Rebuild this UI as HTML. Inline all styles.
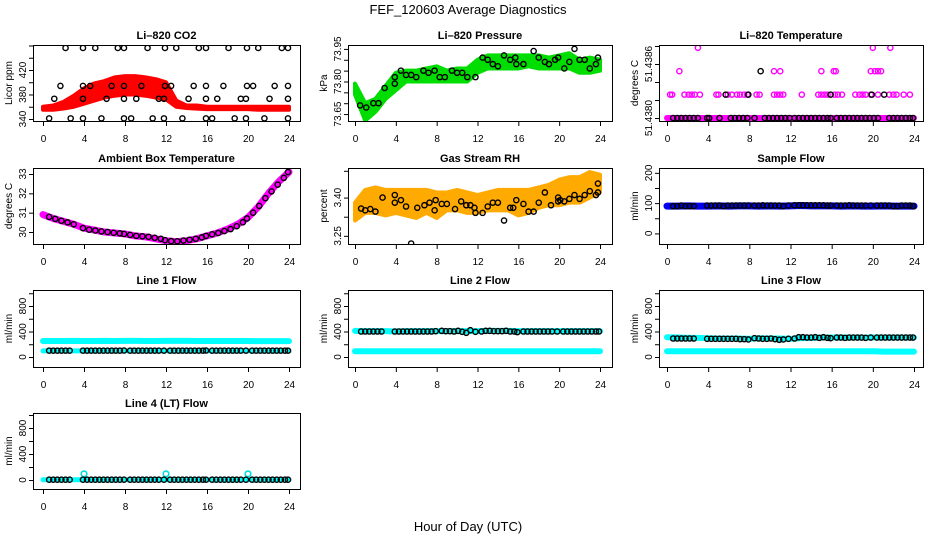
<!DOCTYPE html>
<html><head><meta charset="utf-8">
<style>
html,body{margin:0;padding:0;background:#fff;}
svg{display:block;font-family:"Liberation Sans",Arial,sans-serif;}
</style></head>
<body>
<svg id="chart" width="936" height="540" viewBox="0 0 936 540" xmlns="http://www.w3.org/2000/svg">
<text x="468" y="14" font-size="13" text-anchor="middle">FEF_120603  Average Diagnostics</text>
<text x="468" y="531" font-size="13" text-anchor="middle">Hour of Day (UTC)</text>
</svg>
<script>
// ---------- data ----------
const hours = [0,1,2,3,4,5,6,7,8,9,10,11,12,13,14,15,16,17,18,19,20,21,22,23,24];
const xTicks = [0,4,8,12,16,20,24];

// CO2
const co2Low  = [355,355,357,360,365,370,375,378,380,380,378,375,372,360,358,357,356,356,356,356,356,355,355,355,355];
const co2High = [360,362,368,378,390,398,402,408,410,410,408,405,400,370,362,362,360,360,360,360,360,360,360,360,360];
const co2BlkT = [2.2,3.9,5.1,7.3,7.9,10.2,11.9,13.0,15.2,15.9,18.1,19.9,21.0,23.3,23.9, 0.6,2.7,3.9,5.7,7.9,8.6,10.7,11.8,13.6,15.9,16.5,18.7,19.8,21.6,23.9, 1.7,3.9,4.6,6.7,7.9,9.6,11.9,12.5,14.7,15.9,17.6,19.9,20.5,22.6,23.9, 1.1,3.9,6.2,7.9,9.1,11.3,11.8,14.2,15.9,17.0,19.3,19.8,22.1,23.9];
const co2BlkV = [456,456,456,456,456,456,456,456,456,456,456,456,456,456,456, 341,341,341,341,341,341,341,341,341,341,341,341,341,341,341, 394,394,394,394,394,394,394,394,394,394,394,394,394,394,394, 373,373,373,373,373,373,373,373,373,373,373,373,373,373];

// Pressure
const presLow  = [73.74,73.62,73.66,73.72,73.76,73.80,73.80,73.80,73.80,73.80,73.80,73.80,73.84,73.86,73.86,73.86,73.86,73.87,73.86,73.86,73.86,73.86,73.84,73.84,73.85];
const presHigh = [73.79,73.70,73.72,73.78,73.84,73.85,73.85,73.86,73.87,73.85,73.86,73.86,73.90,73.92,73.92,73.92,73.92,73.92,73.92,73.91,73.92,73.93,73.90,73.91,73.90];
const presBlkT = [0.5,1.1,1.8,2.3,2.9,3.9,3.9,4.5,5,5.5,6,6.7,7.2,7.8,8.3,8.8,9.5,10,10.5,11,11.8,12.5,13,13.5,14,14.6,15.2,15.7,15.8,16.5,17.5,18,18.6,19,19.6,19.9,20.5,21,21.5,22,22.5,23,23.6,23.8];
const presBlkV = [73.69,73.68,73.70,73.70,73.77,73.79,73.82,73.85,73.83,73.83,73.82,73.85,73.84,73.85,73.82,73.82,73.85,73.84,73.84,73.82,73.82,73.91,73.90,73.88,73.87,73.92,73.90,73.91,73.88,73.88,73.94,73.91,73.89,73.88,73.90,73.91,73.86,73.89,73.95,73.90,73.90,73.86,73.88,73.91];

// Li-820 temperature
const tempBase = [51.4380,51.4380,51.4380,51.4380,51.4380,51.4380,51.4380,51.4380,51.4380,51.4380,51.4380,51.4380,51.4380,51.4380,51.4380,51.4380,51.4380,51.4380,51.4380,51.4380,51.4380,51.4380,51.4380,51.4380,51.4380];
const tempMagT = [0.3,0.5,1.7,2.1,2.4,2.7,3.2,4.8,5,5.9,6.3,6.8,7.1,7.5,7.8,8.7,9,10.4,10.7,11,11.3,13.1,14.7,15,15.3,15.6,16.3,16.6,17,18.3,18.7,19,19.3,19.8,20.5,21.6,22,22.3,23,23.6, 1.2,10.4,11.0,15.0,16.2,16.4,19.8,20.2,20.5,20.8, 3.0,20.0,21.7];
const tempMagV = [51.43826,51.43826,51.43826,51.43826,51.43826,51.43826,51.43826,51.43826,51.43826,51.43826,51.43826,51.43826,51.43826,51.43826,51.43826,51.43826,51.43826,51.43826,51.43826,51.43826,51.43826,51.43826,51.43826,51.43826,51.43826,51.43826,51.43826,51.43826,51.43826,51.43826,51.43826,51.43826,51.43826,51.43826,51.43826,51.43826,51.43826,51.43826,51.43826,51.43826, 51.43852,51.43852,51.43852,51.43852,51.43852,51.43852,51.43852,51.43852,51.43852,51.43852, 51.43878,51.43878,51.43878];
const tempBlkT = [0.6,1.0,1.4,1.8,2.2,2.6,3.0,3.9,4.1,5.1,6.2,6.6,7.0,7.4,7.8,8.5,9.5,9.9,10.3,10.7,11.1,11.5,11.9,12.4,12.8,13.2,13.6,14.0,14.4,14.8,15.2,15.6,15.9,16.5,16.9,17.3,17.7,18.1,18.5,18.9,19.3,19.7,20.1,20.5,21.6,22.0,22.4,22.8,23.2,23.6,23.9, 5.7,7.9,15.9,19.9,21.1, 9.1];
const tempBlkV = [51.4380,51.4380,51.4380,51.4380,51.4380,51.4380,51.4380,51.4380,51.4380,51.4380,51.4380,51.4380,51.4380,51.4380,51.4380,51.4380,51.4380,51.4380,51.4380,51.4380,51.4380,51.4380,51.4380,51.4380,51.4380,51.4380,51.4380,51.4380,51.4380,51.4380,51.4380,51.4380,51.4380,51.4380,51.4380,51.4380,51.4380,51.4380,51.4380,51.4380,51.4380,51.4380,51.4380,51.4380,51.4380,51.4380,51.4380,51.4380,51.4380,51.4380,51.4380, 51.43826,51.43826,51.43826,51.43826,51.43826, 51.43852];

// Ambient box temperature
const ambV = [30.9,30.7,30.55,30.4,30.2,30.1,30.0,29.95,29.9,29.8,29.75,29.65,29.55,29.5,29.55,29.65,29.8,29.95,30.15,30.4,30.75,31.3,32.0,32.6,33.1];
const ambBlkT = [0.6,1.2,1.8,2.4,3.0,3.9,4.5,5.1,5.7,6.3,6.9,7.5,7.9,8.5,9.1,9.7,10.3,10.9,11.5,11.9,12.5,13.1,13.7,14.3,14.9,15.5,15.9,16.5,17.1,17.7,18.3,18.9,19.5,19.9,20.5,21.1,21.7,22.3,22.9,23.5,23.9];
const ambBlkV = [30.78,30.68,30.58,30.5,30.4,30.2,30.12,30.08,30.03,30.0,29.96,29.93,29.9,29.85,29.8,29.78,29.75,29.7,29.65,29.58,29.53,29.52,29.56,29.6,29.65,29.72,29.8,29.88,29.95,30.05,30.15,30.3,30.5,30.7,31.0,31.35,31.75,32.1,32.45,32.8,33.1];

// Gas stream RH
const rhLow  = [3.31,3.34,3.34,3.33,3.34,3.33,3.32,3.34,3.32,3.35,3.35,3.34,3.34,3.35,3.35,3.35,3.33,3.34,3.36,3.37,3.37,3.38,3.38,3.40,3.42];
const rhHigh = [3.38,3.43,3.44,3.43,3.43,3.43,3.43,3.43,3.42,3.42,3.43,3.42,3.41,3.42,3.43,3.43,3.43,3.43,3.44,3.45,3.47,3.48,3.48,3.50,3.49];
const rhBlkT = [0.6,1,1.5,2,2.7,3.9,3.9,4.5,5,5.5,6.1,6.8,7.3,7.8,7.9,8.5,9,9.8,10.4,10.9,11.3,11.7,11.8,12.5,13,13.5,14,14.6,15.2,15.5,15.8,16.5,17,17.5,18,18.6,19.2,19.9,19.9,20.1,20.5,21,21.5,22,22.5,23,23.6,23.8,23.8];
const rhBlkV = [3.357,3.35,3.355,3.345,3.40,3.41,3.38,3.39,3.365,3.22,3.36,3.37,3.38,3.35,3.39,3.375,3.375,3.355,3.385,3.37,3.37,3.36,3.34,3.34,3.365,3.38,3.38,3.31,3.36,3.36,3.39,3.375,3.345,3.345,3.38,3.42,3.37,3.40,3.385,3.39,3.385,3.395,3.41,3.395,3.41,3.425,3.41,3.455,3.42];

// Flows
const sampleV = [90,90,91,90,90,91,90,91,91,90,91,90,91,92,91,91,91,90,91,90,90,91,90,90,90];
const flowT = [0.6,1.0,1.4,1.8,2.2,2.6,3.9,4.3,4.7,5.1,5.5,5.9,6.3,6.7,7.1,7.5,7.9,8.5,8.9,9.3,9.7,10.1,10.5,10.9,11.3,11.8,12.4,12.8,13.2,13.6,14.0,14.4,14.8,15.2,15.6,15.9,16.5,16.9,17.3,17.7,18.1,18.5,18.9,19.3,19.8,20.4,20.8,21.2,21.6,22.0,22.4,22.8,23.2,23.6,23.9];
const sampleBlk = [90,90,92,90,90,90,92,92,92,92,90,92,92,92,92,92,92,92,92,93,92,92,92,92,90,92,93,93,93,93,93,93,93,93,92,92,92,92,92,93,92,92,92,92,92,92,92,92,92,90,90,92,92,92,90];
const line1Hi = [250,250,250,252,250,250,252,250,252,252,250,250,252,252,252,250,250,250,250,250,250,248,248,248,248];
const line1Lo = [95,95,95,95,95,95,95,95,95,95,95,95,95,95,95,95,95,95,95,95,95,95,95,95,95];
const line1Blk = [100,100,100,100,100,100,100,100,100,100,100,100,100,100,100,100,102,100,100,100,100,100,100,100,100,100,100,100,100,100,100,100,100,100,100,102,100,100,100,100,100,100,100,100,100,100,100,100,100,100,100,100,100,100,100];
const line2Hi = [410,405,405,405,400,405,405,405,405,405,405,405,405,410,410,410,405,405,405,405,405,405,405,405,405];
const line2Lo = [90,90,90,90,90,90,90,90,90,90,90,90,90,90,90,90,90,90,90,90,90,90,90,90,90];
const line2Blk = [400,400,400,400,400,400,400,400,400,400,400,400,400,400,400,400,405,410,405,405,400,410,395,380,420,395,400,410,410,405,405,405,410,400,400,390,400,400,400,400,400,400,400,400,400,400,400,400,400,400,400,400,400,400,400];
const line3Hi = [310,305,300,300,295,290,290,290,285,295,290,290,285,295,300,305,305,305,305,305,305,305,305,305,305];
const line3Lo = [90,90,90,90,90,90,90,90,90,90,90,90,90,90,90,90,90,90,90,90,90,85,85,85,85];
const line3Blk = [290,290,290,290,290,290,285,285,285,285,285,285,285,285,280,280,275,295,290,285,285,290,280,270,275,285,290,310,310,305,305,310,300,310,300,295,305,305,300,305,305,305,305,300,305,305,305,305,305,305,305,305,305,305,305];
const line4V = [5,5,5,5,5,5,5,5,5,5,5,5,5,5,5,5,5,5,5,5,5,5,5,5,5];
const line4SpikeT = [4.0,12.0,20.0];
const line4SpikeV = [95,95,95];
const line4Blk = [5,5,5,5,5,5,5,5,5,5,5,5,5,5,5,5,5,5,5,5,5,5,5,5,5,5,5,5,5,5,5,5,5,5,5,5,5,5,5,5,5,5,5,5,5,5,5,5,5,5,5,5,5,5,5];

// ---------- layout ----------
const NS = "http://www.w3.org/2000/svg";
const svg = document.getElementById('chart');
const cols = [{l:33,r:300,x0:43,x24:289},{l:348,r:612,x0:355,x24:600},{l:659,r:923,x0:667,x24:914}];
const rows = [{t:45,b:121},{t:168,b:244},{t:290,b:367},{t:413,b:489}];

function mk(tag, attrs, parent){
  const e = document.createElementNS(NS, tag);
  for (const k in attrs) e.setAttribute(k, attrs[k]);
  (parent||svg).appendChild(e);
  return e;
}

function makePanel(name, title, ylab, c, r, ymin, ymax, yTicks, yLabels){
  const C = cols[c], R = rows[r];
  const g = mk('g', {});
  
  
  const sx = t => C.x0 + (C.x24 - C.x0) * t / 24;
  const sy = v => R.b - (R.b - R.t) * (v - ymin) / (ymax - ymin);
  const t = mk('text', {x:(C.l+C.r)/2, y:R.t-6, 'font-size':11, 'font-weight':'bold', 'text-anchor':'middle'}, g);
  t.textContent = title;
  
  
  const box = mk('rect', {x:C.l+0.5, y:R.t+0.5, width:C.r-C.l, height:R.b-R.t, fill:'none', stroke:'#000', 'stroke-width':1}, g);
  
  
  const xa = mk('g', {}, g);
  
  
  mk('line', {x1:sx(0), x2:sx(24), y1:R.b+0.5, y2:R.b+0.5, stroke:'#000'}, xa);
  xTicks.forEach(v => {
    mk('line', {x1:sx(v)+0.5, x2:sx(v)+0.5, y1:R.b, y2:R.b+5, stroke:'#000'}, xa);
    const tl = mk('text', {x:sx(v)+0.5, y:R.b+21, 'font-size':10, 'text-anchor':'middle'}, xa);
    tl.textContent = v;
  });
  const ya = mk('g', {}, g);
  
  
  mk('line', {x1:C.l+0.5, x2:C.l+0.5, y1:sy(yTicks[0]), y2:sy(yTicks[yTicks.length-1]), stroke:'#000'}, ya);
  yTicks.forEach(v => {
    mk('line', {x1:C.l-4, x2:C.l+0.5, y1:sy(v)+0.5, y2:sy(v)+0.5, stroke:'#000'}, ya);
  });
  yLabels.forEach(v => {
    const yy = sy(v);
    const tl = mk('text', {x:0, y:0, 'font-size':10, 'text-anchor':'middle', transform:`translate(${C.l-7},${yy}) rotate(-90)`}, ya);
    tl.textContent = (typeof v === 'number' && v > 50 && v < 52) ? v.toFixed(4) : (v > 70 && v < 80 ? v.toFixed(2) : (v > 3 && v < 4 ? v.toFixed(2) : v));
  });
  const yl = mk('text', {x:0, y:0, 'font-size':10, 'text-anchor':'middle', transform:`translate(${C.l-21},${(R.t+R.b)/2}) rotate(-90)`}, g);
  yl.textContent = ylab;
  
  
  const clip = 'clip-' + name;
  const cp = mk('clipPath', {id:clip}, g);
  mk('rect', {x:C.l+1, y:R.t+1, width:C.r-C.l-1, height:R.b-R.t-1}, cp);
  const plot = mk('g', {'clip-path':`url(#${clip})`}, g);
  return {sx, sy, plot};
}

function band(P, name, low, high, color){
  let pts = hours.map((h,i)=>P.sx(h)+','+P.sy(high[i]));
  pts = pts.concat(hours.slice().reverse().map((h,j)=>{const i=hours.length-1-j; return P.sx(h)+','+P.sy(low[i]);}));
  const p = mk('polygon', {points:pts.join(' '), fill:color, stroke:color, 'stroke-width':4, 'stroke-linejoin':'round'}, P.plot);
  
  
}
function thick(P, name, vals, color, w){
  const p = mk('polyline', {points:hours.map((h,i)=>P.sx(h)+','+P.sy(vals[i])).join(' '), fill:'none', stroke:color, 'stroke-width':w, 'stroke-linecap':'round', 'stroke-linejoin':'round'}, P.plot);
  
  
}
function dots(P, name, ts, vs, color, r, sw){
  const g = mk('g', {}, P.plot);
  
  
  ts.forEach((t,i)=>{
    mk('circle', {cx:P.sx(t), cy:P.sy(vs[i]), r:r||2.6, fill:'none', stroke:color, 'stroke-width':sw||1.4}, g);
  });
}

// CO2
let P = makePanel('co2', 'Li\u2013820 CO2', 'Licor ppm', 0, 0, 336.7, 460.8, [340,360,380,400,420,440,460], [340,380,420]);
band(P, 'co2-red-band', co2Low, co2High, '#ff0000');
dots(P, 'co2-black-points', co2BlkT, co2BlkV, '#000');

// Pressure
P = makePanel('pressure', 'Li\u2013820 Pressure', 'kPa', 1, 0, 73.618, 73.968, [73.65,73.70,73.75,73.80,73.85,73.90,73.95], [73.65,73.80,73.95]);
band(P, 'pressure-green-band', presLow, presHigh, '#00dd00');
dots(P, 'pressure-black-points', presBlkT, presBlkV, '#000');

// Li-820 Temperature
P = makePanel('li820-temp', 'Li\u2013820 Temperature', 'degrees C', 2, 0, 51.437967, 51.438811, [51.4380,51.4382,51.4384,51.4386,51.4388], [51.4380,51.4386]);
thick(P, 'temp-magenta-base', tempBase, '#ff00ff', 6);
dots(P, 'temp-magenta-points', tempMagT, tempMagV, '#ff00ff');
dots(P, 'temp-black-points', tempBlkT, tempBlkV, '#000');

// Ambient
P = makePanel('ambient', 'Ambient Box Temperature', 'degrees C', 0, 1, 29.38, 33.31, [30,31,32,33], [30,31,32,33]);
thick(P, 'ambient-magenta-line', ambV, '#ff00ff', 7);
dots(P, 'ambient-black-points', ambBlkT, ambBlkV, '#000');

// RH
P = makePanel('rh', 'Gas Stream RH', 'percent', 1, 1, 3.218, 3.516, [3.25,3.325,3.40,3.505], [3.25,3.40]);
band(P, 'rh-orange-band', rhLow, rhHigh, '#ffaa00');
dots(P, 'rh-black-points', rhBlkT, rhBlkV, '#000');

// Sample Flow
P = makePanel('sample-flow', 'Sample Flow', 'ml/min', 2, 1, -35, 216, [0,50,100,150,200], [0,100,200]);
thick(P, 'sample-blue-line', sampleV, '#0000ee', 7);
dots(P, 'sample-black-points', flowT, sampleBlk, '#000');

const fTicks = [0,200,400,600,800,1000];
const fLabels = [0,400,800];
// Line 1
P = makePanel('line1', 'Line 1 Flow', 'ml/min', 0, 2, -157, 1051, fTicks, fLabels);
thick(P, 'line1-cyan-upper', line1Hi, '#00ffff', 6);
thick(P, 'line1-cyan-lower', line1Lo, '#00ffff', 5);
dots(P, 'line1-black-points', flowT, line1Blk, '#000');
// Line 2
P = makePanel('line2', 'Line 2 Flow', 'ml/min', 1, 2, -157, 1051, fTicks, fLabels);
thick(P, 'line2-cyan-upper', line2Hi, '#00ffff', 6);
thick(P, 'line2-cyan-lower', line2Lo, '#00ffff', 6);
dots(P, 'line2-black-points', flowT, line2Blk, '#000');
// Line 3
P = makePanel('line3', 'Line 3 Flow', 'ml/min', 2, 2, -157, 1051, fTicks, fLabels);
thick(P, 'line3-cyan-upper', line3Hi, '#00ffff', 6);
thick(P, 'line3-cyan-lower', line3Lo, '#00ffff', 6);
dots(P, 'line3-black-points', flowT, line3Blk, '#000');
// Line 4
P = makePanel('line4', 'Line 4 (LT) Flow', 'ml/min', 0, 3, -138, 1031, fTicks, fLabels);
thick(P, 'line4-cyan-line', line4V, '#00ffff', 5);
dots(P, 'line4-cyan-spikes', line4SpikeT, line4SpikeV, '#00dddd', 2.8, 1.6);
dots(P, 'line4-black-points', flowT, line4Blk, '#000');
</script>
</body></html>
